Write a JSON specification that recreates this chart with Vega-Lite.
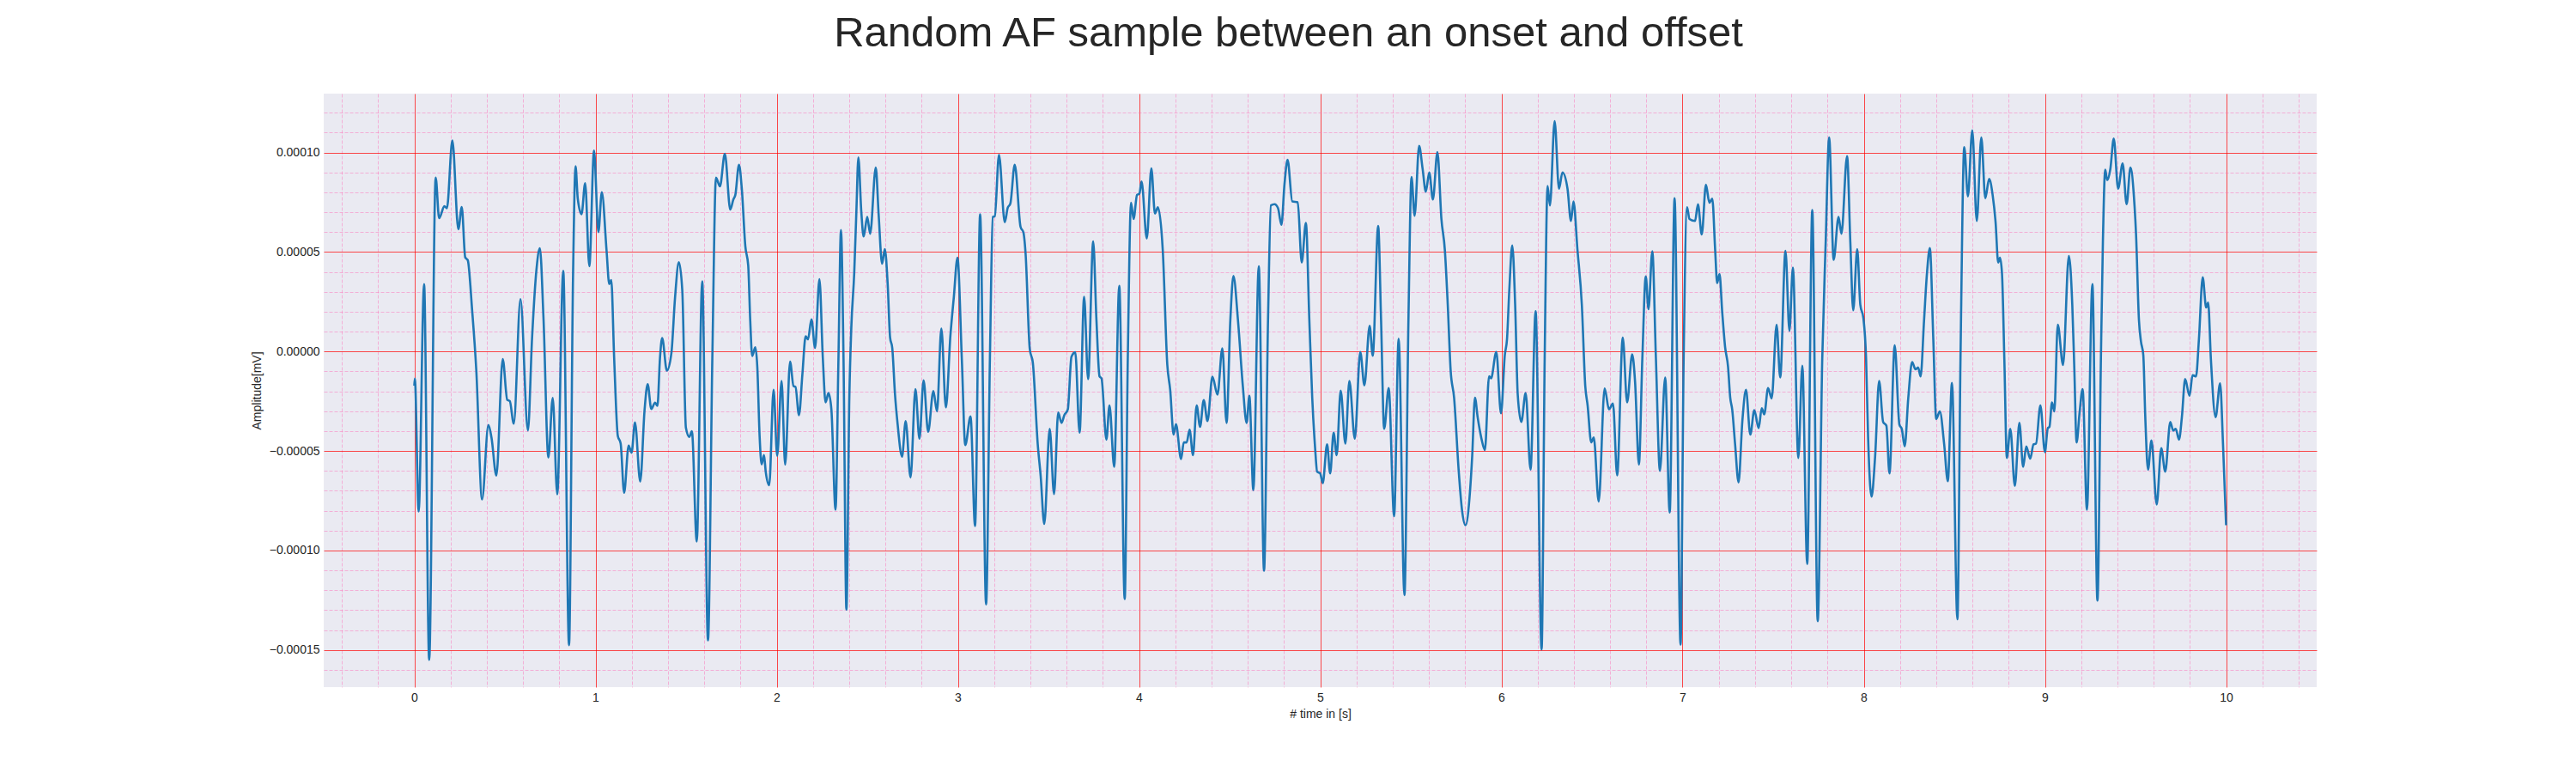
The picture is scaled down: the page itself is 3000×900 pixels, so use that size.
{
  "$schema": "https://vega.github.io/schema/vega-lite/v6.json",
  "autosize": "none",
  "width": 2321,
  "height": 691,
  "padding": {"left": 377, "top": 109, "right": 302, "bottom": 100},
  "background": "white",
  "title": {
    "text": "Random AF sample between an onset and offset",
    "font": "Liberation Sans",
    "fontSize": 49,
    "fontWeight": "normal",
    "color": "#262626",
    "anchor": "middle",
    "frame": "group",
    "dx": -37,
    "offset": 45
  },
  "config": {
    "view": {"fill": "#EAEAF2", "stroke": null},
    "axis": {
      "labelFont": "Liberation Sans",
      "labelFontSize": 14,
      "labelColor": "#262626",
      "titleFont": "Liberation Sans",
      "titleFontSize": 14,
      "titleFontWeight": "normal",
      "titleColor": "#262626",
      "domain": false,
      "ticks": false
    }
  },
  "data": {
    "values": [
      {"t": 0.000, "v": -1.72e-5}, {"t": 0.003, "v": -1.36e-5}, {"t": 0.024, "v": -8.04e-5}, {"t": 0.054, "v": 3.39e-5},
      {"t": 0.082, "v": -15.5e-5}, {"t": 0.118, "v": 8.74e-5}, {"t": 0.137, "v": 6.70e-5}, {"t": 0.166, "v": 7.30e-5},
      {"t": 0.180, "v": 7.2e-5}, {"t": 0.210, "v": 10.6e-5}, {"t": 0.243, "v": 6.14e-5}, {"t": 0.262, "v": 7.26e-5},
      {"t": 0.281, "v": 4.73e-5}, {"t": 0.295, "v": 4.59e-5}, {"t": 0.319, "v": 2.09e-5}, {"t": 0.342, "v": -0.92e-5},
      {"t": 0.374, "v": -7.44e-5}, {"t": 0.409, "v": -3.69e-5}, {"t": 0.426, "v": -4.33e-5}, {"t": 0.453, "v": -6.24e-5},
      {"t": 0.488, "v": -0.38e-5}, {"t": 0.513, "v": -2.43e-5}, {"t": 0.527, "v": -2.49e-5}, {"t": 0.549, "v": -3.63e-5},
      {"t": 0.586, "v": 2.63e-5}, {"t": 0.627, "v": -3.97e-5}, {"t": 0.650, "v": 0.68e-5}, {"t": 0.674, "v": 4.09e-5},
      {"t": 0.693, "v": 5.19e-5}, {"t": 0.713, "v": 1.68e-5}, {"t": 0.740, "v": -5.33e-5}, {"t": 0.764, "v": -2.33e-5},
      {"t": 0.789, "v": -7.18e-5}, {"t": 0.822, "v": 4.05e-5}, {"t": 0.854, "v": -14.76e-5}, {"t": 0.876, "v": 3.69e-5},
      {"t": 0.890, "v": 9.31e-5}, {"t": 0.902, "v": 7.70e-5}, {"t": 0.923, "v": 6.90e-5}, {"t": 0.943, "v": 8.46e-5},
      {"t": 0.966, "v": 4.29e-5}, {"t": 0.992, "v": 10.1e-5}, {"t": 1.016, "v": 6.0e-5}, {"t": 1.035, "v": 8.0e-5},
      {"t": 1.061, "v": 5.09e-5}, {"t": 1.076, "v": 3.39e-5}, {"t": 1.087, "v": 3.59e-5}, {"t": 1.103, "v": -0.32e-5},
      {"t": 1.123, "v": -4.23e-5}, {"t": 1.139, "v": -4.63e-5}, {"t": 1.158, "v": -7.10e-5}, {"t": 1.183, "v": -4.73e-5},
      {"t": 1.199, "v": -5.09e-5}, {"t": 1.218, "v": -3.57e-5}, {"t": 1.247, "v": -6.54e-5}, {"t": 1.271, "v": -2.93e-5},
      {"t": 1.288, "v": -1.64e-5}, {"t": 1.308, "v": -2.89e-5}, {"t": 1.329, "v": -2.57e-5}, {"t": 1.342, "v": -2.73e-5},
      {"t": 1.356, "v": -0.32e-5}, {"t": 1.368, "v": 0.68e-5}, {"t": 1.394, "v": -0.96e-5}, {"t": 1.419, "v": -0.08e-5},
      {"t": 1.439, "v": 2.69e-5}, {"t": 1.460, "v": 4.49e-5}, {"t": 1.479, "v": 3.09e-5}, {"t": 1.499, "v": -3.83e-5},
      {"t": 1.518, "v": -4.29e-5}, {"t": 1.532, "v": -4.01e-5}, {"t": 1.559, "v": -9.55e-5}, {"t": 1.589, "v": 3.53e-5},
      {"t": 1.621, "v": -14.52e-5}, {"t": 1.645, "v": -0.32e-5}, {"t": 1.665, "v": 8.74e-5}, {"t": 1.687, "v": 8.30e-5},
      {"t": 1.714, "v": 9.94e-5}, {"t": 1.744, "v": 7.13e-5}, {"t": 1.761, "v": 7.64e-5}, {"t": 1.772, "v": 7.87e-5},
      {"t": 1.792, "v": 9.39e-5}, {"t": 1.808, "v": 8.13e-5}, {"t": 1.827, "v": 5.29e-5}, {"t": 1.843, "v": 4.32e-5},
      {"t": 1.854, "v": 1.58e-5}, {"t": 1.865, "v": -0.23e-5}, {"t": 1.882, "v": 0.21e-5}, {"t": 1.893, "v": -0.76e-5},
      {"t": 1.906, "v": -4.28e-5}, {"t": 1.917, "v": -5.68e-5}, {"t": 1.930, "v": -5.21e-5}, {"t": 1.940, "v": -6.07e-5},
      {"t": 1.959, "v": -6.72e-5}, {"t": 1.983, "v": -1.93e-5}, {"t": 2.003, "v": -5.25e-5}, {"t": 2.027, "v": -1.48e-5},
      {"t": 2.047, "v": -5.68e-5}, {"t": 2.074, "v": -0.51e-5}, {"t": 2.093, "v": -1.74e-5}, {"t": 2.104, "v": -1.78e-5},
      {"t": 2.123, "v": -3.20e-5}, {"t": 2.142, "v": -1.15e-5}, {"t": 2.160, "v": 0.76e-5}, {"t": 2.173, "v": 0.61e-5},
      {"t": 2.192, "v": 1.62e-5}, {"t": 2.212, "v": 0.18e-5}, {"t": 2.236, "v": 3.63e-5}, {"t": 2.255, "v": -0.37e-5},
      {"t": 2.270, "v": -2.56e-5}, {"t": 2.286, "v": -2.09e-5}, {"t": 2.302, "v": -2.91e-5}, {"t": 2.325, "v": -7.95e-5},
      {"t": 2.341, "v": -0.37e-5}, {"t": 2.355, "v": 6.11e-5}, {"t": 2.369, "v": -0.37e-5}, {"t": 2.385, "v": -12.97e-5},
      {"t": 2.401, "v": -2.32e-5}, {"t": 2.412, "v": 1.19e-5}, {"t": 2.428, "v": 3.93e-5}, {"t": 2.440, "v": 7.05e-5},
      {"t": 2.451, "v": 9.75e-5}, {"t": 2.467, "v": 7.05e-5}, {"t": 2.480, "v": 5.78e-5}, {"t": 2.500, "v": 6.76e-5},
      {"t": 2.516, "v": 5.92e-5}, {"t": 2.547, "v": 9.24e-5}, {"t": 2.563, "v": 6.86e-5}, {"t": 2.582, "v": 4.41e-5},
      {"t": 2.597, "v": 5.14e-5}, {"t": 2.613, "v": 3.34e-5}, {"t": 2.626, "v": 0.70e-5}, {"t": 2.638, "v": 0.18e-5},
      {"t": 2.653, "v": -2.13e-5}, {"t": 2.668, "v": -3.69e-5}, {"t": 2.692, "v": -5.29e-5}, {"t": 2.712, "v": -3.50e-5},
      {"t": 2.739, "v": -6.33e-5}, {"t": 2.766, "v": -1.89e-5}, {"t": 2.788, "v": -4.38e-5}, {"t": 2.811, "v": -1.45e-5},
      {"t": 2.836, "v": -4.04e-5}, {"t": 2.865, "v": -1.99e-5}, {"t": 2.885, "v": -3.01e-5}, {"t": 2.909, "v": 1.15e-5},
      {"t": 2.934, "v": -2.81e-5}, {"t": 2.959, "v": 0.80e-5}, {"t": 2.978, "v": 2.75e-5}, {"t": 2.998, "v": 4.71e-5},
      {"t": 3.022, "v": -0.37e-5}, {"t": 3.041, "v": -4.71e-5}, {"t": 3.070, "v": -3.26e-5}, {"t": 3.095, "v": -8.77e-5},
      {"t": 3.123, "v": 6.89e-5}, {"t": 3.156, "v": -12.71e-5}, {"t": 3.177, "v": -0.37e-5}, {"t": 3.193, "v": 6.76e-5},
      {"t": 3.204, "v": 6.80e-5}, {"t": 3.227, "v": 9.88e-5}, {"t": 3.259, "v": 6.50e-5}, {"t": 3.275, "v": 7.21e-5},
      {"t": 3.290, "v": 7.44e-5}, {"t": 3.314, "v": 9.39e-5}, {"t": 3.346, "v": 6.27e-5}, {"t": 3.362, "v": 5.98e-5},
      {"t": 3.374, "v": 4.90e-5}, {"t": 3.397, "v": 0.12e-5}, {"t": 3.414, "v": -0.57e-5}, {"t": 3.441, "v": -4.67e-5},
      {"t": 3.457, "v": -6.23e-5}, {"t": 3.477, "v": -8.67e-5}, {"t": 3.507, "v": -3.89e-5}, {"t": 3.531, "v": -7.17e-5},
      {"t": 3.554, "v": -3.07e-5}, {"t": 3.572, "v": -3.59e-5}, {"t": 3.588, "v": -3.20e-5}, {"t": 3.607, "v": -2.91e-5},
      {"t": 3.627, "v": -0.27e-5}, {"t": 3.648, "v": -0.04e-5}, {"t": 3.672, "v": -4.08e-5}, {"t": 3.697, "v": 2.75e-5},
      {"t": 3.719, "v": -1.39e-5}, {"t": 3.747, "v": 5.53e-5}, {"t": 3.765, "v": 1.58e-5}, {"t": 3.782, "v": -1.25e-5},
      {"t": 3.793, "v": -1.35e-5}, {"t": 3.820, "v": -4.43e-5}, {"t": 3.837, "v": -2.71e-5}, {"t": 3.863, "v": -5.80e-5},
      {"t": 3.891, "v": 3.30e-5}, {"t": 3.921, "v": -12.44e-5}, {"t": 3.938, "v": -0.37e-5}, {"t": 3.956, "v": 7.48e-5},
      {"t": 3.970, "v": 6.66e-5}, {"t": 3.989, "v": 7.87e-5}, {"t": 4.002, "v": 7.93e-5}, {"t": 4.014, "v": 8.54e-5},
      {"t": 4.043, "v": 5.68e-5}, {"t": 4.068, "v": 9.20e-5}, {"t": 4.088, "v": 6.93e-5}, {"t": 4.104, "v": 7.25e-5},
      {"t": 4.131, "v": 5.10e-5}, {"t": 4.156, "v": -0.66e-5}, {"t": 4.172, "v": -1.93e-5}, {"t": 4.191, "v": -4.18e-5},
      {"t": 4.204, "v": -3.65e-5}, {"t": 4.232, "v": -5.41e-5}, {"t": 4.247, "v": -4.57e-5}, {"t": 4.263, "v": -4.57e-5},
      {"t": 4.279, "v": -3.93e-5}, {"t": 4.298, "v": -5.21e-5}, {"t": 4.318, "v": -2.71e-5}, {"t": 4.337, "v": -3.79e-5},
      {"t": 4.357, "v": -2.44e-5}, {"t": 4.378, "v": -3.50e-5}, {"t": 4.405, "v": -1.27e-5}, {"t": 4.433, "v": -2.17e-5},
      {"t": 4.460, "v": 0.16e-5}, {"t": 4.483, "v": -3.59e-5}, {"t": 4.504, "v": 1.58e-5}, {"t": 4.521, "v": 3.79e-5},
      {"t": 4.546, "v": 1.58e-5}, {"t": 4.573, "v": -1.74e-5}, {"t": 4.594, "v": -3.59e-5}, {"t": 4.609, "v": -2.23e-5},
      {"t": 4.631, "v": -6.97e-5}, {"t": 4.661, "v": 4.28e-5}, {"t": 4.690, "v": -11.02e-5}, {"t": 4.712, "v": 1.58e-5},
      {"t": 4.728, "v": 7.34e-5}, {"t": 4.748, "v": 7.40e-5}, {"t": 4.767, "v": 7.21e-5}, {"t": 4.786, "v": 6.37e-5},
      {"t": 4.803, "v": 8.42e-5}, {"t": 4.820, "v": 9.63e-5}, {"t": 4.846, "v": 7.54e-5}, {"t": 4.876, "v": 7.50e-5},
      {"t": 4.898, "v": 4.47e-5}, {"t": 4.921, "v": 6.46e-5}, {"t": 4.940, "v": 1.58e-5}, {"t": 4.956, "v": -2.32e-5},
      {"t": 4.972, "v": -4.86e-5}, {"t": 4.983, "v": -6.04e-5}, {"t": 5.000, "v": -6.13e-5}, {"t": 5.014, "v": -6.62e-5},
      {"t": 5.038, "v": -4.67e-5}, {"t": 5.055, "v": -6.13e-5}, {"t": 5.074, "v": -4.08e-5}, {"t": 5.091, "v": -5.21e-5},
      {"t": 5.113, "v": -1.97e-5}, {"t": 5.139, "v": -4.63e-5}, {"t": 5.161, "v": -1.48e-5}, {"t": 5.191, "v": -4.38e-5},
      {"t": 5.221, "v": -0.02e-5}, {"t": 5.244, "v": -1.70e-5}, {"t": 5.273, "v": 1.29e-5}, {"t": 5.290, "v": -0.21e-5},
      {"t": 5.320, "v": 6.31e-5}, {"t": 5.336, "v": 1.58e-5}, {"t": 5.353, "v": -3.89e-5}, {"t": 5.378, "v": -1.84e-5},
      {"t": 5.408, "v": -8.28e-5}, {"t": 5.433, "v": 0.64e-5}, {"t": 5.465, "v": -12.25e-5}, {"t": 5.487, "v": 1.58e-5},
      {"t": 5.504, "v": 8.77e-5}, {"t": 5.521, "v": 6.82e-5}, {"t": 5.546, "v": 10.33e-5}, {"t": 5.565, "v": 9.20e-5},
      {"t": 5.583, "v": 8.03e-5}, {"t": 5.602, "v": 9.00e-5}, {"t": 5.622, "v": 7.64e-5}, {"t": 5.647, "v": 10.02e-5},
      {"t": 5.669, "v": 6.66e-5}, {"t": 5.688, "v": 5.10e-5}, {"t": 5.704, "v": 2.36e-5}, {"t": 5.720, "v": -0.96e-5},
      {"t": 5.739, "v": -2.32e-5}, {"t": 5.764, "v": -5.94e-5}, {"t": 5.783, "v": -7.99e-5}, {"t": 5.802, "v": -8.73e-5},
      {"t": 5.827, "v": -7.01e-5}, {"t": 5.839, "v": -5.25e-5}, {"t": 5.854, "v": -2.32e-5}, {"t": 5.869, "v": -3.30e-5},
      {"t": 5.890, "v": -4.38e-5}, {"t": 5.909, "v": -4.96e-5}, {"t": 5.932, "v": -1.25e-5}, {"t": 5.943, "v": -1.35e-5},
      {"t": 5.972, "v": -0.02e-5}, {"t": 5.998, "v": -3.11e-5}, {"t": 6.019, "v": -0.18e-5}, {"t": 6.031, "v": 0.61e-5},
      {"t": 6.044, "v": 3.14e-5}, {"t": 6.060, "v": 5.33e-5}, {"t": 6.076, "v": 2.36e-5}, {"t": 6.090, "v": -2.13e-5},
      {"t": 6.110, "v": -3.54e-5}, {"t": 6.134, "v": -2.09e-5}, {"t": 6.161, "v": -5.94e-5}, {"t": 6.189, "v": 2.03e-5},
      {"t": 6.222, "v": -14.98e-5}, {"t": 6.239, "v": -0.37e-5}, {"t": 6.255, "v": 8.32e-5}, {"t": 6.268, "v": 7.34e-5},
      {"t": 6.294, "v": 11.58e-5}, {"t": 6.318, "v": 8.18e-5}, {"t": 6.337, "v": 9.00e-5}, {"t": 6.365, "v": 8.18e-5},
      {"t": 6.384, "v": 6.56e-5}, {"t": 6.398, "v": 7.54e-5}, {"t": 6.420, "v": 5.10e-5}, {"t": 6.444, "v": 2.36e-5},
      {"t": 6.463, "v": -1.74e-5}, {"t": 6.476, "v": -2.71e-5}, {"t": 6.496, "v": -4.57e-5}, {"t": 6.510, "v": -4.32e-5},
      {"t": 6.537, "v": -7.54e-5}, {"t": 6.570, "v": -1.86e-5}, {"t": 6.594, "v": -2.91e-5}, {"t": 6.616, "v": -2.62e-5},
      {"t": 6.639, "v": -6.23e-5}, {"t": 6.670, "v": 0.70e-5}, {"t": 6.694, "v": -2.56e-5}, {"t": 6.722, "v": -0.14e-5},
      {"t": 6.738, "v": -1.54e-5}, {"t": 6.759, "v": -5.68e-5}, {"t": 6.778, "v": -0.37e-5}, {"t": 6.797, "v": 3.77e-5},
      {"t": 6.812, "v": 2.13e-5}, {"t": 6.833, "v": 5.04e-5}, {"t": 6.853, "v": -0.37e-5}, {"t": 6.875, "v": -6.00e-5},
      {"t": 6.904, "v": -1.31e-5}, {"t": 6.929, "v": -8.09e-5}, {"t": 6.956, "v": 7.70e-5}, {"t": 6.989, "v": -14.73e-5},
      {"t": 7.006, "v": -0.37e-5}, {"t": 7.025, "v": 7.25e-5}, {"t": 7.038, "v": 6.66e-5}, {"t": 7.069, "v": 6.56e-5},
      {"t": 7.085, "v": 7.40e-5}, {"t": 7.106, "v": 5.88e-5}, {"t": 7.129, "v": 8.38e-5}, {"t": 7.148, "v": 7.48e-5},
      {"t": 7.164, "v": 7.68e-5}, {"t": 7.180, "v": 5.10e-5}, {"t": 7.191, "v": 3.44e-5}, {"t": 7.204, "v": 3.89e-5},
      {"t": 7.219, "v": 1.97e-5}, {"t": 7.235, "v": 0.21e-5}, {"t": 7.251, "v": -0.76e-5}, {"t": 7.263, "v": -2.32e-5},
      {"t": 7.274, "v": -2.91e-5}, {"t": 7.290, "v": -4.67e-5}, {"t": 7.309, "v": -6.58e-5}, {"t": 7.330, "v": -3.50e-5},
      {"t": 7.350, "v": -1.93e-5}, {"t": 7.374, "v": -4.18e-5}, {"t": 7.396, "v": -2.95e-5}, {"t": 7.420, "v": -3.85e-5},
      {"t": 7.437, "v": -2.85e-5}, {"t": 7.451, "v": -3.16e-5}, {"t": 7.472, "v": -1.84e-5}, {"t": 7.492, "v": -2.36e-5},
      {"t": 7.519, "v": 1.35e-5}, {"t": 7.539, "v": -1.31e-5}, {"t": 7.568, "v": 5.06e-5}, {"t": 7.590, "v": 1.04e-5},
      {"t": 7.609, "v": 4.22e-5}, {"t": 7.639, "v": -5.35e-5}, {"t": 7.661, "v": -0.72e-5}, {"t": 7.688, "v": -10.68e-5},
      {"t": 7.716, "v": 7.11e-5}, {"t": 7.746, "v": -13.55e-5}, {"t": 7.771, "v": -0.37e-5}, {"t": 7.790, "v": 5.49e-5},
      {"t": 7.809, "v": 10.76e-5}, {"t": 7.834, "v": 4.61e-5}, {"t": 7.861, "v": 6.76e-5}, {"t": 7.877, "v": 5.92e-5},
      {"t": 7.908, "v": 9.82e-5}, {"t": 7.926, "v": 5.49e-5}, {"t": 7.942, "v": 2.07e-5}, {"t": 7.964, "v": 5.14e-5},
      {"t": 7.981, "v": 2.36e-5}, {"t": 7.998, "v": 1.68e-5}, {"t": 8.013, "v": -0.37e-5}, {"t": 8.024, "v": -4.28e-5},
      {"t": 8.043, "v": -7.30e-5}, {"t": 8.063, "v": -5.25e-5}, {"t": 8.085, "v": -1.48e-5}, {"t": 8.107, "v": -3.54e-5},
      {"t": 8.125, "v": -3.73e-5}, {"t": 8.142, "v": -6.13e-5}, {"t": 8.171, "v": 0.31e-5}, {"t": 8.197, "v": -3.69e-5},
      {"t": 8.210, "v": -3.89e-5}, {"t": 8.226, "v": -4.77e-5}, {"t": 8.246, "v": -2.32e-5}, {"t": 8.267, "v": -0.53e-5},
      {"t": 8.286, "v": -0.90e-5}, {"t": 8.300, "v": -0.80e-5}, {"t": 8.314, "v": -1.25e-5}, {"t": 8.333, "v": 1.58e-5},
      {"t": 8.349, "v": 3.93e-5}, {"t": 8.365, "v": 5.20e-5}, {"t": 8.384, "v": 0.61e-5}, {"t": 8.400, "v": -3.40e-5},
      {"t": 8.420, "v": -3.01e-5}, {"t": 8.444, "v": -4.67e-5}, {"t": 8.464, "v": -6.52e-5}, {"t": 8.487, "v": -1.58e-5},
      {"t": 8.517, "v": -13.46e-5}, {"t": 8.534, "v": -0.37e-5}, {"t": 8.555, "v": 10.27e-5}, {"t": 8.575, "v": 7.79e-5},
      {"t": 8.599, "v": 11.11e-5}, {"t": 8.624, "v": 6.56e-5}, {"t": 8.649, "v": 10.76e-5}, {"t": 8.671, "v": 7.70e-5},
      {"t": 8.692, "v": 8.67e-5}, {"t": 8.712, "v": 7.83e-5}, {"t": 8.728, "v": 6.46e-5}, {"t": 8.742, "v": 4.47e-5},
      {"t": 8.752, "v": 4.71e-5}, {"t": 8.763, "v": 3.93e-5}, {"t": 8.776, "v": -0.37e-5}, {"t": 8.790, "v": -5.35e-5},
      {"t": 8.809, "v": -3.89e-5}, {"t": 8.834, "v": -6.76e-5}, {"t": 8.859, "v": -3.59e-5}, {"t": 8.880, "v": -5.80e-5},
      {"t": 8.897, "v": -4.77e-5}, {"t": 8.919, "v": -5.39e-5}, {"t": 8.937, "v": -4.67e-5}, {"t": 8.951, "v": -4.63e-5},
      {"t": 8.975, "v": -2.71e-5}, {"t": 9.000, "v": -5.06e-5}, {"t": 9.016, "v": -3.85e-5}, {"t": 9.025, "v": -3.79e-5},
      {"t": 9.039, "v": -2.56e-5}, {"t": 9.052, "v": -3.01e-5}, {"t": 9.071, "v": 1.35e-5}, {"t": 9.100, "v": -0.68e-5},
      {"t": 9.132, "v": 4.80e-5}, {"t": 9.151, "v": 2.36e-5}, {"t": 9.162, "v": -0.76e-5}, {"t": 9.175, "v": -4.57e-5},
      {"t": 9.191, "v": -3.11e-5}, {"t": 9.208, "v": -1.89e-5}, {"t": 9.232, "v": -7.95e-5}, {"t": 9.262, "v": 3.38e-5},
      {"t": 9.290, "v": -12.52e-5}, {"t": 9.309, "v": -0.37e-5}, {"t": 9.320, "v": 5.49e-5}, {"t": 9.333, "v": 9.14e-5},
      {"t": 9.344, "v": 8.61e-5}, {"t": 9.361, "v": 9.16e-5}, {"t": 9.380, "v": 10.70e-5}, {"t": 9.404, "v": 8.18e-5},
      {"t": 9.429, "v": 9.45e-5}, {"t": 9.451, "v": 7.40e-5}, {"t": 9.472, "v": 9.24e-5}, {"t": 9.491, "v": 7.83e-5},
      {"t": 9.503, "v": 5.88e-5}, {"t": 9.519, "v": 1.58e-5}, {"t": 9.530, "v": 0.51e-5}, {"t": 9.543, "v": -0.18e-5},
      {"t": 9.554, "v": -3.30e-5}, {"t": 9.569, "v": -5.94e-5}, {"t": 9.588, "v": -4.47e-5}, {"t": 9.617, "v": -7.69e-5},
      {"t": 9.642, "v": -4.86e-5}, {"t": 9.664, "v": -6.04e-5}, {"t": 9.692, "v": -3.54e-5}, {"t": 9.708, "v": -3.98e-5},
      {"t": 9.722, "v": -3.89e-5}, {"t": 9.740, "v": -4.43e-5}, {"t": 9.756, "v": -3.30e-5}, {"t": 9.774, "v": -1.39e-5},
      {"t": 9.798, "v": -2.23e-5}, {"t": 9.815, "v": -1.19e-5}, {"t": 9.834, "v": -1.25e-5}, {"t": 9.850, "v": 0.61e-5},
      {"t": 9.871, "v": 3.73e-5}, {"t": 9.890, "v": 2.21e-5}, {"t": 9.901, "v": 2.46e-5}, {"t": 9.916, "v": -0.37e-5},
      {"t": 9.942, "v": -3.30e-5}, {"t": 9.967, "v": -1.60e-5}, {"t": 9.983, "v": -4.67e-5}, {"t": 10.000, "v": -8.73e-5}
    ]
  },
  "layer": [
    {
      "mark": {"type": "line", "strokeOpacity": 0},
      "encoding": {
        "x": {
          "field": "t",
          "type": "quantitative",
          "scale": {"domain": [-0.5, 10.5], "nice": false, "zero": false},
          "axis": {
            "orient": "bottom",
            "title": null,
            "labels": false,
            "grid": true,
            "gridColor": "#ff69b4",
            "gridOpacity": 0.45,
            "gridWidth": 1,
            "gridDash": [4, 2],
            "values": [-0.4, -0.2, 0.2, 0.4, 0.6, 0.8, 1.2, 1.4, 1.6, 1.8, 2.2, 2.4, 2.6, 2.8, 3.2, 3.4, 3.6, 3.8, 4.2, 4.4, 4.6, 4.8, 5.2, 5.4, 5.6, 5.8, 6.2, 6.4, 6.6, 6.8, 7.2, 7.4, 7.6, 7.8, 8.2, 8.4, 8.6, 8.8, 9.2, 9.4, 9.6, 9.8, 10.2, 10.4]
          }
        },
        "y": {
          "field": "v",
          "type": "quantitative",
          "scale": {"domain": [-0.0001687, 0.0001296], "nice": false, "zero": false},
          "axis": {
            "orient": "left",
            "title": null,
            "labels": false,
            "grid": true,
            "gridColor": "#ff69b4",
            "gridOpacity": 0.45,
            "gridWidth": 1,
            "gridDash": [4, 2],
            "values": [-0.00016, -0.00014, -0.00013, -0.00012, -0.00011, -0.00009, -0.00008, -0.00007, -0.00006, -0.00004, -0.00003, -0.00002, -0.00001, 0.00001, 0.00002, 0.00003, 0.00004, 0.00006, 0.00007, 0.00008, 0.00009, 0.00011, 0.00012]
          }
        }
      }
    },
    {
      "mark": {"type": "line", "color": "#1f77b4", "strokeWidth": 2.6, "interpolate": "monotone"},
      "encoding": {
        "x": {
          "field": "t",
          "type": "quantitative",
          "scale": {"domain": [-0.5, 10.5], "nice": false, "zero": false},
          "axis": {
            "orient": "bottom",
            "title": "# time in [s]",
            "titlePadding": 5,
            "labelPadding": 5,
            "format": "d",
            "grid": true,
            "gridColor": "#ff0000",
            "gridOpacity": 0.7,
            "gridWidth": 1,
            "values": [0, 1, 2, 3, 4, 5, 6, 7, 8, 9, 10]
          }
        },
        "y": {
          "field": "v",
          "type": "quantitative",
          "scale": {"domain": [-0.0001687, 0.0001296], "nice": false, "zero": false},
          "axis": {
            "orient": "left",
            "title": "Amplitude[mV]",
            "titlePadding": 7,
            "labelPadding": 5,
            "format": ".5f",
            "grid": true,
            "gridColor": "#ff0000",
            "gridOpacity": 0.7,
            "gridWidth": 1,
            "values": [-0.00015, -0.0001, -0.00005, 0, 0.00005, 0.0001]
          }
        }
      }
    }
  ],
  "resolve": {"axis": {"x": "independent", "y": "independent"}}
}
